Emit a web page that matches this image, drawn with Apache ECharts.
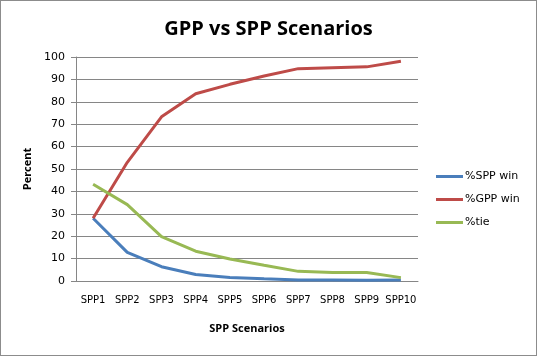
<!DOCTYPE html>
<html><head><meta charset="utf-8">
<script src="https://cdn.jsdelivr.net/npm/echarts@6/dist/echarts.min.js"></script>
<style>html,body{margin:0;padding:0;background:#fff}#c{width:537px;height:356px;box-sizing:border-box;border:1px solid #8c8c8c}</style>
</head><body><div id="c"></div>
<script>
const categories = ['SPP1','SPP2','SPP3','SPP4','SPP5','SPP6','SPP7','SPP8','SPP9','SPP10'];
const sppWin = [28, 12.8, 6.4, 2.9, 1.6, 1.0, 0.5, 0.4, 0.3, 0.5];
const gppWin = [28, 53, 73.3, 83.6, 87.8, 91.5, 94.8, 95.2, 95.6, 98.1];
const tie = [43.2, 34.1, 19.8, 13.3, 9.8, 7.0, 4.3, 3.8, 3.8, 1.5];
const yTicks = [0,10,20,30,40,50,60,70,80,90,100];

const chart = echarts.init(document.getElementById('c'), null, {renderer:'canvas'});
const font = 'DejaVu Sans';
chart.setOption({
  animation:false,
  title:{text:'GPP vs SPP Scenarios', left:'center', top:13, textStyle:{fontFamily:'Open Sans', fontWeight:'bold', fontSize:20, color:'#000'}},
  grid:{left:75, top:56, width:342, height:224, containLabel:false},
  legend:{orient:'vertical', left:435, top:170, padding:0, itemWidth:27, itemHeight:3, itemGap:12,
    icon:'rect', textStyle:{fontFamily:font, fontSize:11, color:'#000', padding:[0,0,0,-3]},
    data:['%SPP win','%GPP win','%tie']},
  xAxis:{type:'category', data:categories, boundaryGap:true,
    name:'SPP Scenarios', nameLocation:'middle', nameGap:42,
    nameTextStyle:{fontFamily:'Open Sans', fontWeight:'bold', fontSize:11, color:'#000'},
    axisLine:{lineStyle:{color:'#868686'}}, axisTick:{show:false},
    axisLabel:{fontFamily:font, fontSize:10, color:'#000', margin:14, interval:0}},
  yAxis:{type:'value', min:0, max:100, interval:10,
    name:'Percent', nameLocation:'middle', nameGap:42,
    nameTextStyle:{fontFamily:'Open Sans', fontWeight:'bold', fontSize:11, color:'#000'},
    axisLine:{show:true, lineStyle:{color:'#868686'}}, axisTick:{show:true, length:5, lineStyle:{color:'#868686'}},
    axisLabel:{fontFamily:font, fontSize:11, color:'#000', margin:11,
      formatter:v=>yTicks.includes(v)?String(v):''},
    splitLine:{lineStyle:{color:'#868686', width:1}}},
  series:[
    {name:'%SPP win', type:'line', data:sppWin, symbol:'none', lineStyle:{color:'#4A7EBB', width:3}, itemStyle:{color:'#4A7EBB'}},
    {name:'%GPP win', type:'line', data:gppWin, symbol:'none', lineStyle:{color:'#BE4B48', width:3}, itemStyle:{color:'#BE4B48'}},
    {name:'%tie', type:'line', data:tie, symbol:'none', lineStyle:{color:'#98B954', width:3}, itemStyle:{color:'#98B954'}}
  ]
});
</script></body></html>
